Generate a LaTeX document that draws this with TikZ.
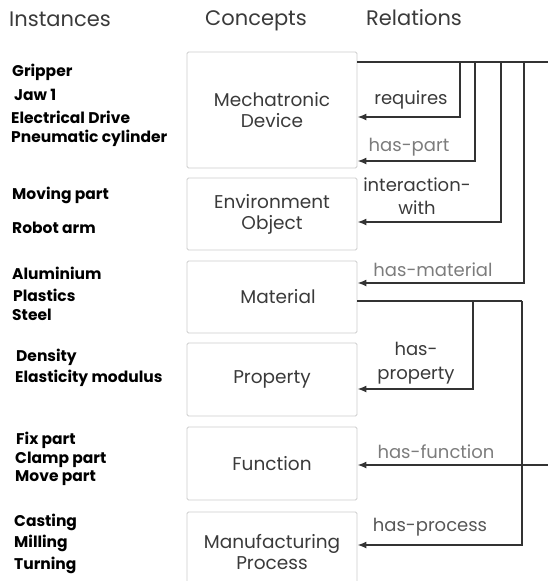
\documentclass[tikz,border=0pt]{standalone}
\usepackage{fontspec}
\setmainfont{Poppins}
\usetikzlibrary{arrows.meta}

\definecolor{boxline}{HTML}{CCCCCC}
\definecolor{wire}{HTML}{333333}
\definecolor{inkdark}{HTML}{3A3A3A}
\definecolor{inkgray}{HTML}{7C7C7C}

\begin{document}
\begin{tikzpicture}[x=1pt,y=-1pt,
  concept/.style={draw=boxline, line width=0.9pt, rounded corners=1.5pt,
    minimum width=170pt, inner sep=0pt, align=center, text=inkdark,
    font=\fontsize{18.5}{21}\selectfont},
  header/.style={text=inkdark, font=\fontsize{21}{24}\selectfont},
  instance/.style={anchor=west, text=black, inner sep=0pt,
    font=\bfseries\fontsize{15.5}{17}\selectfont},
  rellabel/.style={text=inkdark, align=center, inner sep=0pt,
    font=\fontsize{18}{23.5}\selectfont},
  relgray/.style={rellabel, text=inkgray},
  wireline/.style={draw=wire, line width=1.5pt},
  arrowline/.style={wireline, -{Latex[length=9pt,width=7pt]}}
]
\useasboundingbox (0,0) rectangle (548,581);

% column headers
\node[header] (hInst) at (60,19) {Instances};
\node[header] (hConc) at (256,21) {Concepts};
\node[header] (hRel)  at (414,18) {Relations};

% concept boxes
\node[concept, minimum height=116pt] (mech) at (272,110) {Mechatronic\\Device};
\node[concept, minimum height=72pt]  (env)  at (272,214) {Environment\\Object};
\node[concept, minimum height=72pt]  (mat)  at (272,297) {\hspace*{12pt}Material};
\node[concept, minimum height=73pt]  (prop) at (272,379.5) {Property};
\node[concept, minimum height=73pt]  (func) at (272,463.5) {Function};
\node[concept, minimum height=80pt]  (manu) at (272,552) {Manufacturing\\Process};

% instances
\node[instance] (i1)  at (12,72)  {Gripper};
\node[instance] (i2)  at (14,95)  {Jaw 1};
\node[instance] (i3)  at (11,117) {Electrical Drive};
\node[instance] (i4)  at (11,138) {Pneumatic cylinder};
\node[instance] (i5)  at (12,195) {Moving part};
\node[instance] (i6)  at (12,228) {Robot arm};
\node[instance] (i7)  at (12,273) {Aluminium};
\node[instance] (i8)  at (13,295) {Plastics};
\node[instance] (i9)  at (12,315) {Steel};
\node[instance] (i10) at (16,357) {Density};
\node[instance] (i11) at (15,378) {Elasticity modulus};
\node[instance] (i12) at (16,440) {Fix part};
\node[instance] (i13) at (15,460) {Clamp part};
\node[instance] (i14) at (15,478) {Move part};
\node[instance] (i15) at (14,522) {Casting};
\node[instance] (i16) at (14,543) {Milling};
\node[instance] (i17) at (14,565) {Turning};

% relation wiring from the mechatronic device
\coordinate (mOut) at (357,62);
\coordinate (trunkEnd) at (548,62);
\coordinate (bReq)  at (460,62);
\coordinate (bPart) at (475,62);
\coordinate (bInt)  at (501,62);
\coordinate (bMat)  at (524,62);
\draw[wireline] (mOut) -- (trunkEnd);
\draw[arrowline] (bReq)  |- (mech.east |- 0,117);
\draw[arrowline] (bPart) |- (mech.east |- 0,161);
\draw[arrowline] (bInt)  |- (env.east |- 0,222);
\draw[arrowline] (bMat)  |- (mat.east |- 0,283);

% relation wiring from the material
\coordinate (matOut) at (357,301);
\coordinate (bProp)  at (473,301);
\coordinate (bProc)  at (522,301);
\draw[wireline] (matOut) -- (bProc);
\draw[arrowline] (bProp) |- (prop.east |- 0,389);
\draw[arrowline] (bProc) |- (manu.east |- 0,545);

% incoming function relation
\coordinate (funcIn) at (548,465);
\draw[arrowline] (funcIn) -- (func.east |- 0,465);

% relation labels
\node[rellabel] (lReq)  at (411,100) {requires};
\node[relgray]  (lPart) at (409,147) {has-part};
\node[rellabel] (lInt)  at (417,196) {interaction-\\with};
\node[relgray]  (lMat)  at (433,270) {has-material};
\node[rellabel] (lProp) at (416,363) {has-\\property};
\node[relgray]  (lFunc) at (436,452) {has-function};
\node[rellabel, text=inkdark!85!white] (lProc) at (430,527) {has-process};
\end{tikzpicture}
\end{document}
